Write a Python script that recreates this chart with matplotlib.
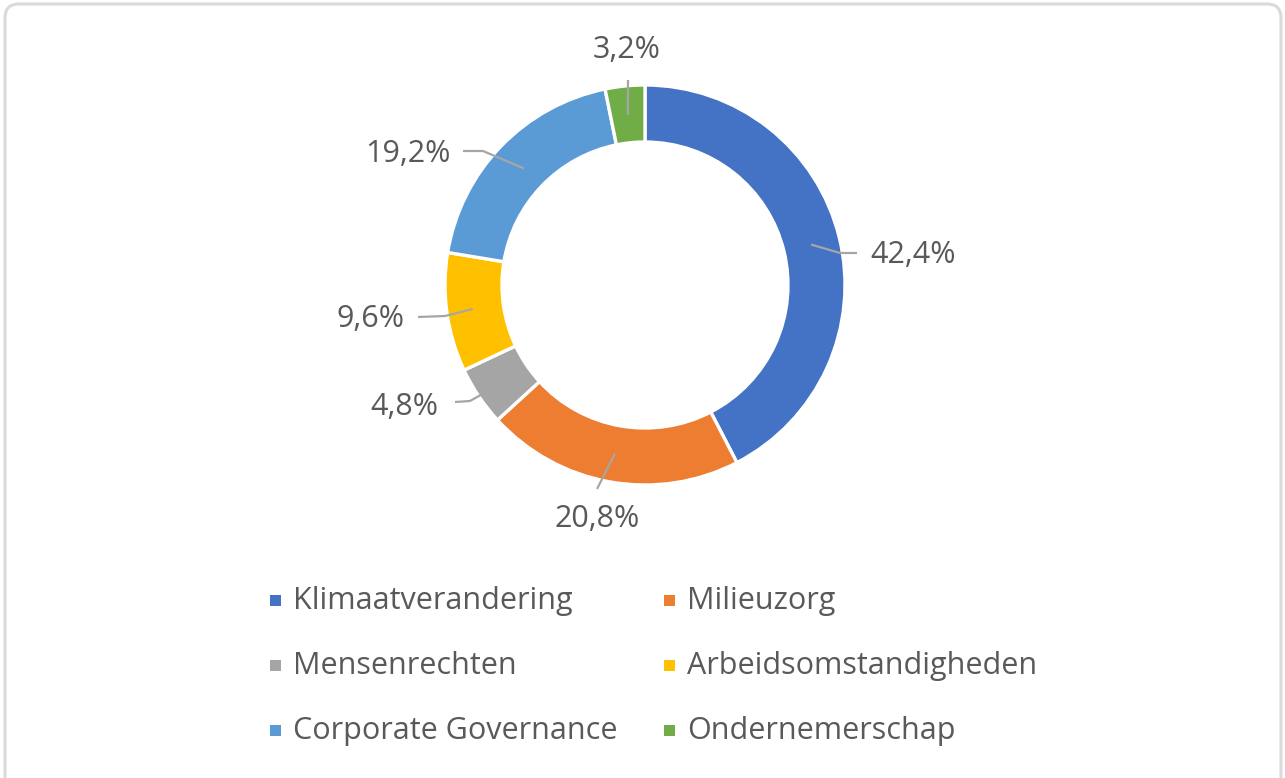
import matplotlib.pyplot as plt
import numpy as np
from matplotlib.patches import FancyBboxPatch

# data
categories = ['Klimaatverandering', 'Milieuzorg', 'Mensenrechten',
              'Arbeidsomstandigheden', 'Corporate Governance', 'Ondernemerschap']
shares = [42.4, 20.8, 4.8, 9.6, 19.2, 3.2]
colors = ['#4472C4', '#ED7D31', '#A5A5A5', '#FFC000', '#5B9BD5', '#70AD47']

W, H = 1285, 778
plt.rcParams['font.family'] = ['Open Sans', 'DejaVu Sans']

fig = plt.figure(figsize=(W / 100, H / 100), dpi=100)
ax = fig.add_axes([0, 0, 1, 1])


def fy(y):
    # pixel y (top-down) -> data y
    return H - y


# frame rond de grafiek
frame = FancyBboxPatch((5, fy(800)), W - 9, 800 - 4,
                       boxstyle='round,pad=0,rounding_size=14',
                       linewidth=2.2, edgecolor='#dadada', facecolor='none')
ax.add_patch(frame)

cx, cy = 645, 285
r_out, width = 200, 57
wedges, _ = ax.pie(shares, colors=colors, startangle=90, counterclock=False,
                   radius=r_out, center=(cx, fy(cy)),
                   wedgeprops=dict(width=width, edgecolor='white', linewidth=2.4),
                   frame=True)
ax.set_xlim(0, W)
ax.set_ylim(0, H)
ax.set_aspect('equal')
ax.axis('off')

# labels: tekstpositie en knikpunten van de leader lijn (pixels)
label_pos = [(913, 255), (597, 519), (404, 407), (370, 319), (408, 154), (627, 50)]
line_pts = [[(840, 253), (857, 253)],
            [(597, 489)],
            [(470, 401), (455, 402)],
            [(445, 316), (418, 317)],
            [(483, 151), (463, 151)],
            [(628, 80)]]
anchor_r = [171, 171, 196, 174, 168, 171]

start = 90.0
for i, val in enumerate(shares):
    span = val / sum(shares) * 360
    mid = np.deg2rad(start - span / 2)
    start -= span
    ax_x = cx + anchor_r[i] * np.cos(mid)
    ax_y = cy - anchor_r[i] * np.sin(mid)
    pts = [(ax_x, ax_y)] + line_pts[i]
    ax.plot([p[0] for p in pts], [fy(p[1]) for p in pts],
            color='#a6a6a6', lw=1.6, solid_capstyle='butt', zorder=3)
    tx, ty = label_pos[i]
    ax.text(tx, fy(ty), f'{val:.1f}%'.replace('.', ','), fontsize=22,
            color='#595959', ha='center', va='center')

# legenda
leg_x = [275, 669]
leg_y = [600, 665, 730]
for i, (name, col) in enumerate(zip(categories, colors)):
    lx = leg_x[i % 2]
    ly = leg_y[i // 2]
    ax.add_patch(plt.Rectangle((lx - 5.5, fy(ly) - 5.5), 11, 11, facecolor=col,
                               edgecolor='none'))
    ax.text(lx + 18, fy(ly) - 1, name, fontsize=22, color='#595959',
            ha='left', va='center')

fig.savefig('out.png', dpi=100, facecolor='white')
